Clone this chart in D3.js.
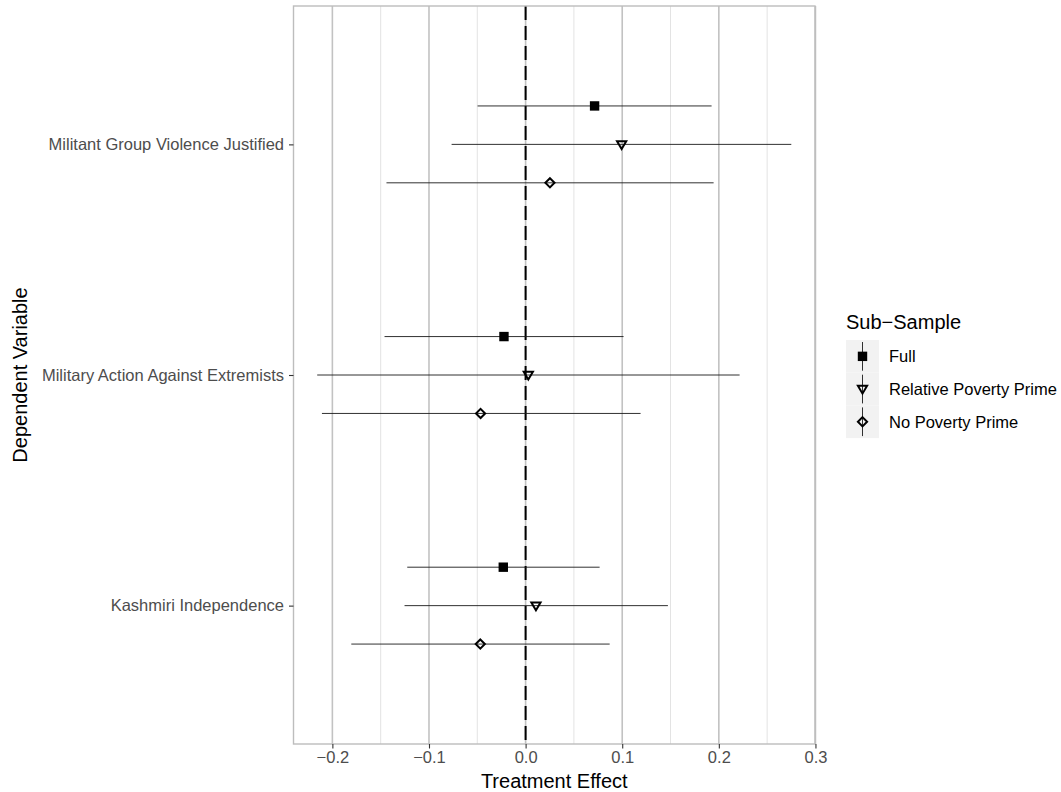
<!DOCTYPE html>
<html>
<head>
<meta charset="utf-8">
<script src="https://cdn.jsdelivr.net/npm/d3@7"></script>
<style>
  body { margin: 0; background: #fff; }
  svg { font-family: "Liberation Sans", Arial, sans-serif; }
</style>
</head>
<body>
<div id="viz"></div>
<script>
// ---- data ----
const outcomes = ['Militant Group Violence Justified', 'Military Action Against Extremists', 'Kashmiri Independence'];
const samples = ['Full', 'Relative Poverty Prime', 'No Poverty Prime'];
// one array per sub-sample, in the order of outcomes
const estFull = [0.0714, -0.0224, -0.0231];
const loFull  = [-0.0497, -0.1460, -0.1225];
const hiFull  = [0.1925, 0.1014, 0.0766];
const estRel = [0.0994, 0.0028, 0.0107];
const loRel  = [-0.0766, -0.2157, -0.1253];
const hiRel  = [0.2750, 0.2215, 0.1473];
const estNo = [0.0252, -0.0466, -0.0469];
const loNo  = [-0.1440, -0.2108, -0.1804];
const hiNo  = [0.1946, 0.1190, 0.0870];
const xTicks = [-0.2, -0.1, 0, 0.1, 0.2, 0.3];
const xMinor = [-0.15, -0.05, 0.05, 0.15, 0.25];

const series = [
  {name: samples[0], est: estFull, lo: loFull, hi: hiFull},
  {name: samples[1], est: estRel, lo: loRel, hi: hiRel},
  {name: samples[2], est: estNo, lo: loNo, hi: hiNo},
];
const rows = [];
series.forEach(s => outcomes.forEach((o, i) => rows.push({sample: s.name, outcome: o, est: s.est[i], lo: s.lo[i], hi: s.hi[i]})));

// ---- dimensions ----
const width = 1061, height = 792;
const panel = {left: 293.5, right: 815, top: 6, bottom: 744};
const tickFont = '16.5px', titleFont = '20px';

const svg = d3.select('#viz').append('svg')
  .attr('width', width)
  .attr('height', height);

// ---- scales ----
const lo = d3.min(rows, d => d.lo), hi = d3.max(rows, d => d.hi);
const pad = (hi - lo) * 0.05;
const xScale = d3.scaleLinear()
  .domain([lo - pad, hi + pad])
  .range([panel.left, panel.right]);

const yScale = d3.scalePoint()
  .domain(outcomes)
  .range([panel.top, panel.bottom])
  .padding(0.6);
const step = yScale.step();
const dodge = d3.scalePoint()
  .domain(samples)
  .range([-step / 6, step / 6]);

const yOf = d => yScale(d.outcome) + dodge(d.sample);

// ---- panel background & grid ----
svg.append('rect')
  .attr('x', panel.left).attr('y', panel.top)
  .attr('width', panel.right - panel.left).attr('height', panel.bottom - panel.top)
  .attr('fill', '#fff');

svg.append('g').selectAll('line')
  .data(xMinor)
  .join('line')
    .attr('x1', d => xScale(d)).attr('x2', d => xScale(d))
    .attr('y1', panel.top).attr('y2', panel.bottom)
    .attr('stroke', '#e3e3e3').attr('stroke-width', 1);

svg.append('g').selectAll('line')
  .data(xTicks)
  .join('line')
    .attr('x1', d => xScale(d)).attr('x2', d => xScale(d))
    .attr('y1', panel.top).attr('y2', panel.bottom)
    .attr('stroke', '#c2c2c2').attr('stroke-width', 1.6);

// zero line
svg.append('line')
  .attr('x1', xScale(0)).attr('x2', xScale(0))
  .attr('y1', panel.top).attr('y2', panel.bottom)
  .attr('stroke', '#000').attr('stroke-width', 2)
  .attr('stroke-dasharray', '14,6');

// ---- error bars ----
svg.append('g').selectAll('line')
  .data(rows)
  .join('line')
    .attr('x1', d => xScale(d.lo)).attr('x2', d => xScale(d.hi))
    .attr('y1', yOf).attr('y2', yOf)
    .attr('stroke', '#1a1a1a').attr('stroke-width', 0.9);

// ---- point shapes ----
const shapes = {
  'Full': (g) => g.append('rect').attr('x', -4.7).attr('y', -4.7).attr('width', 9.4).attr('height', 9.4).attr('fill', '#000'),
  'Relative Poverty Prime': (g) => g.append('path').attr('d', 'M-4.6,-3.2L4.6,-3.2L0,4.6Z')
      .attr('fill', 'none').attr('stroke', '#000').attr('stroke-width', 2).attr('stroke-linejoin', 'miter'),
  'No Poverty Prime': (g) => g.append('path').attr('d', 'M0,-4.6L4.6,0L0,4.6L-4.6,0Z')
      .attr('fill', 'none').attr('stroke', '#000').attr('stroke-width', 2),
};

svg.append('g').selectAll('g')
  .data(rows)
  .join('g')
    .attr('transform', d => `translate(${xScale(d.est)},${yOf(d)})`)
    .each(function(d) { shapes[d.sample](d3.select(this)); });

// ---- panel border ----
svg.append('rect')
  .attr('x', panel.left).attr('y', panel.top)
  .attr('width', panel.right - panel.left).attr('height', panel.bottom - panel.top)
  .attr('fill', 'none').attr('stroke', '#bdbdbd').attr('stroke-width', 1.4);

// ---- axes ----
const xAxis = svg.append('g')
  .attr('transform', `translate(0,${panel.bottom})`)
  .call(d3.axisBottom(xScale).tickValues(xTicks).tickFormat(d3.format('.1f')).tickSize(4.5).tickPadding(3));
xAxis.select('.domain').remove();
xAxis.selectAll('.tick line').attr('stroke', '#333').attr('stroke-width', 1.1);
xAxis.selectAll('.tick text').attr('fill', '#4d4d4d').style('font-size', tickFont)
  .style('font-family', '"Liberation Sans", Arial, sans-serif');

const yAxis = svg.append('g')
  .attr('transform', `translate(${panel.left},0)`)
  .call(d3.axisLeft(yScale).tickSize(4.5).tickPadding(5));
yAxis.select('.domain').remove();
yAxis.selectAll('.tick line').attr('stroke', '#333').attr('stroke-width', 1.1);
yAxis.selectAll('.tick text').attr('fill', '#4d4d4d').style('font-size', tickFont)
  .style('font-family', '"Liberation Sans", Arial, sans-serif');

svg.append('text')
  .attr('x', (panel.left + panel.right) / 2).attr('y', 788)
  .attr('text-anchor', 'middle')
  .style('font-size', titleFont)
  .text('Treatment Effect');

svg.append('text')
  .attr('transform', `translate(27,${(panel.top + panel.bottom) / 2}) rotate(-90)`)
  .attr('text-anchor', 'middle')
  .style('font-size', titleFont)
  .text('Dependent Variable');

// ---- legend ----
const legend = svg.append('g').attr('transform', 'translate(846,0)');
legend.append('text')
  .attr('x', 0).attr('y', 329)
  .style('font-size', titleFont)
  .text('Sub\u2212Sample');

const keyH = 32.7, keyTop = 340;
const keys = legend.selectAll('g.key')
  .data(samples)
  .join('g')
    .attr('class', 'key')
    .attr('transform', (d, i) => `translate(0,${keyTop + i * keyH})`);
keys.append('rect')
  .attr('width', 33).attr('height', keyH)
  .attr('fill', '#f2f2f2');
keys.append('line')
  .attr('x1', 16.5).attr('x2', 16.5).attr('y1', 2).attr('y2', keyH - 2)
  .attr('stroke', '#1a1a1a').attr('stroke-width', 0.9);
keys.append('g')
  .attr('transform', `translate(16.5,${keyH / 2})`)
  .each(function(d) { shapes[d](d3.select(this)); });
keys.append('text')
  .attr('x', 43).attr('y', keyH / 2)
  .attr('dy', '0.35em')
  .style('font-size', tickFont)
  .text(d => d);
</script>
</body>
</html>
